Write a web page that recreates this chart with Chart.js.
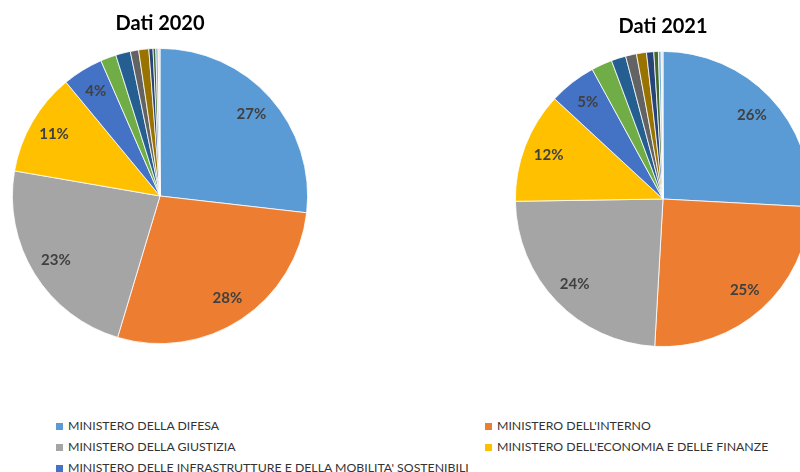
<!DOCTYPE html>
<html lang="it">
<head>
  <meta charset="UTF-8">
  <title>Dati 2020 - 2021</title>
  <style>
    html, body {
      margin: 0;
      padding: 0;
      width: 800px;
      height: 472px;
      overflow: hidden;
      background: #fff;
      font-family: 'Lato', sans-serif;
    }
    .pie {
      position: absolute;
      width: 320px;
      height: 350px;
    }
    #pie2020 { left: 0; top: 0; }
    #pie2021 { left: 503px; top: 3px; }
    #legend {
      position: absolute;
      left: 56px;
      top: 415px;
      width: 760px;
    }
    .item {
      position: absolute;
      white-space: nowrap;
      font-size: 12.3px;
      color: #333;
      line-height: 21px;
    }
    .item span {
      display: inline-block;
      width: 7px;
      height: 7px;
      margin-right: 5px;
      vertical-align: 0px;
    }
  </style>
</head>
<body>

  <canvas id="pie2020" class="pie"></canvas>
  <canvas id="pie2021" class="pie"></canvas>
  <div id="legend"></div>

  <script src="https://cdn.jsdelivr.net/npm/chart.js"></script>
  <script>
    // Ministeri (ordine delle fette, in senso orario dall'alto)
    const ministeri = [
      'MINISTERO DELLA DIFESA',
      "MINISTERO DELL'INTERNO",
      'MINISTERO DELLA GIUSTIZIA',
      "MINISTERO DELL'ECONOMIA E DELLE FINANZE",
      "MINISTERO DELLE INFRASTRUTTURE E DELLA MOBILITA' SOSTENIBILI",
      "MINISTERO DELL'ISTRUZIONE",
      'MINISTERO DEGLI AFFARI ESTERI E DELLA COOPERAZIONE INTERNAZIONALE',
      'MINISTERO DELLE POLITICHE AGRICOLE ALIMENTARI E FORESTALI',
      'MINISTERO DELLA CULTURA',
      'MINISTERO DELLO SVILUPPO ECONOMICO',
      'MINISTERO DEL LAVORO E DELLE POLITICHE SOCIALI',
      'MINISTERO DELLA SALUTE',
      'MINISTERO DELLA TRANSIZIONE ECOLOGICA',
      "MINISTERO DELL'UNIVERSITA' E DELLA RICERCA"
    ];

    // quote percentuali
    const values2020 = [26.6, 27.6, 22.9, 11.2, 4.4, 1.7, 1.6, 0.9, 1.1, 0.45, 0.3, 0.25, 0.1, 0.1];
    const values2021 = [26.0, 25.2, 24.0, 12.2, 5.2, 2.3, 1.6, 1.2, 1.1, 0.8, 0.5, 0.3, 0.1, 0.1];

    const colori = [
      '#5B9BD5', '#ED7D31', '#A5A5A5', '#FFC000', '#4472C4', '#70AD47', '#255E91',
      '#636363', '#997300', '#264478', '#43682B', '#7CAFDD', '#F1975A', '#B7B7B7'
    ];

    // etichette percentuali dentro le fette
    const percentLabels = {
      id: 'percentLabels',
      afterDatasetsDraw(chart) {
        const ctx = chart.ctx;
        const data = chart.data.datasets[0].data;
        const total = data.reduce((a, b) => a + b, 0);
        const arcs = chart.getDatasetMeta(0).data;
        ctx.save();
        ctx.font = 'bold 15px Lato, sans-serif';
        ctx.fillStyle = '#404040';
        ctx.textAlign = 'center';
        ctx.textBaseline = 'middle';
        arcs.forEach((arc, i) => {
          const share = data[i] / total * 100;
          if (share < 3) return;
          const p = arc.getProps(['x', 'y', 'startAngle', 'endAngle', 'outerRadius'], true);
          const mid = (p.startAngle + p.endAngle) / 2;
          const r = p.outerRadius * 0.83;
          ctx.fillText(Math.round(share) + '%', p.x + Math.cos(mid) * r, p.y + Math.sin(mid) * r);
        });
        ctx.restore();
      }
    };

    function makePie(id, title, values) {
      return new Chart(document.getElementById(id), {
        type: 'pie',
        data: {
          labels: ministeri,
          datasets: [{
            data: values,
            backgroundColor: colori,
            borderColor: '#ffffff',
            borderWidth: 0.8
          }]
        },
        options: {
          responsive: false,
          animation: false,
          layout: { padding: { bottom: 6 } },
          plugins: {
            legend: { display: false },
            tooltip: { enabled: false },
            title: {
              display: true,
              text: title,
              color: '#000',
              font: { family: 'Lato', size: 20, weight: 'bold' },
              padding: { top: 12, bottom: 12 }
            }
          }
        },
        plugins: [percentLabels]
      });
    }

    // dimensioni del canvas
    ['pie2020', 'pie2021'].forEach(id => {
      const c = document.getElementById(id);
      c.width = 320;
      c.height = 350;
    });

    makePie('pie2020', 'Dati 2020', values2020);
    makePie('pie2021', 'Dati 2021', values2021);

    // legenda su due colonne (la terza riga a destra resta vuota, il resto è tagliato)
    const legend = document.getElementById('legend');
    ministeri.forEach((nome, i) => {
      const pos = i < 5 ? i : i + 1;
      const item = document.createElement('div');
      item.className = 'item';
      item.style.left = (pos % 2 === 0 ? 0 : 429) + 'px';
      item.style.top = (Math.floor(pos / 2) * 21) + 'px';
      const box = document.createElement('span');
      box.style.background = colori[i];
      item.appendChild(box);
      item.appendChild(document.createTextNode(nome));
      legend.appendChild(item);
    });
  </script>

</body>
</html>
